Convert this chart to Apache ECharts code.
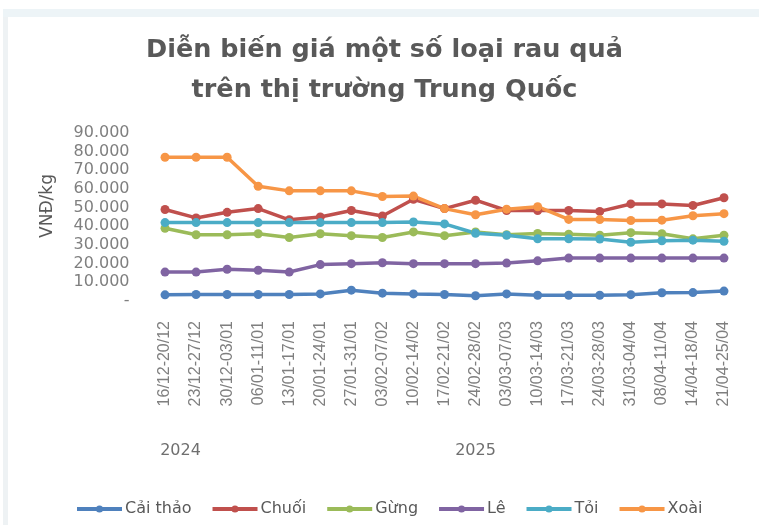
<!DOCTYPE html>
<html>
<head>
<meta charset="utf-8">
<script src="https://cdn.jsdelivr.net/npm/echarts@6/dist/echarts.min.js"></script>
<style>
html,body{margin:0;padding:0;background:#fff;}
#chart{width:759px;height:525px;}
</style>
</head>
<body>
<div id="chart"></div>
<script>
const titleText = 'Diễn biến giá một số loại rau quả\ntrên thị trường Trung Quốc';
const yAxisName = 'VNĐ/kg';
const categories = ['16/12-20/12','23/12-27/12','30/12-03/01','06/01-11/01','13/01-17/01','20/01-24/01','27/01-31/01','03/02-07/02','10/02-14/02','17/02-21/02','24/02-28/02','03/03-07/03','10/03-14/03','17/03-21/03','24/03-28/03','31/03-04/04','08/04-11/04','14/04-18/04','21/04-25/04'];
const years = ['2024', '2025'];
const yearStart = [0, 2];
const yearEnd = [1, 18];
const seriesNames = ['Cải thảo','Chuối','Gừng','Lê','Tỏi','Xoài'];
const caiThao = [3300,3500,3500,3500,3500,3800,5800,4200,3800,3500,2800,3800,3100,3100,3100,3400,4400,4500,5300];
const chuoi = [49000,44500,47500,49500,43500,45000,48500,45500,54500,49500,54000,48500,48500,48500,48000,52000,52000,51200,55300];
const gung = [39000,35500,35500,36000,34000,36000,35000,34000,37000,35000,37000,35500,36200,35800,35200,36600,36000,33300,35200];
const le = [15500,15500,17000,16500,15500,19500,20000,20500,20000,20000,20000,20300,21500,23000,23000,23000,23000,23000,23000];
const toi = [42000,42000,42000,42000,42000,42000,42000,42000,42300,41300,36300,35200,33300,33300,33200,31500,32300,32600,32000];
const xoai = [77000,77000,77000,61500,59000,59000,59000,56000,56200,49500,46200,49200,50500,43700,43600,43100,43300,45700,46800];
const seriesData = [caiThao, chuoi, gung, le, toi, xoai];
const colors = ['#4F81BD','#C0504D','#9BBB59','#8064A2','#4BACC6','#F79646'];

const chart = echarts.init(document.getElementById('chart'), null, {renderer:'canvas'});

function fmt(v){
  if (v === 0) return '-';
  return String(v).replace(/\B(?=(\d{3})+(?!\d))/g, '.');
}

const option = {
  animation: false,
  backgroundColor: '#ffffff',
  color: colors,
  title: {
    text: titleText,
    left: 384.5,
    top: 30,
    padding: 0,
    textAlign: 'center',
    textStyle: {
      fontFamily: 'DejaVu Sans',
      fontWeight: 'bold',
      fontSize: 25.5,
      lineHeight: 40,
      color: '#595959'
    }
  },
  legend: {
    data: seriesNames,
    left: 75,
    top: 501,
    padding: 0,
    itemWidth: 45,
    itemHeight: 9,
    itemGap: 19,
    lineStyle: { width: 4 },
    textStyle: { fontFamily: 'DejaVu Sans', fontSize: 16, color: '#595959', padding: [0,0,0,-2] }
  },
  grid: { left: 149.5, right: 19.5, top: 133, bottom: 224, containLabel: false },
  xAxis: {
    type: 'category',
    data: categories,
    boundaryGap: true,
    axisLine: { show: false },
    axisTick: { show: false },
    axisLabel: {
      rotate: 90,
      interval: 0,
      margin: 20,
      fontFamily: 'Liberation Sans, Arial, sans-serif',
      fontSize: 16,
      color: '#7f7f7f'
    },
    splitLine: { show: false }
  },
  yAxis: {
    type: 'value',
    min: 0,
    max: 90000,
    interval: 10000,
    axisLine: { show: false },
    axisTick: { show: false },
    splitLine: { show: false },
    axisLabel: {
      formatter: fmt,
      margin: 20,
      fontFamily: 'DejaVu Sans',
      fontSize: 16,
      color: '#7f7f7f'
    }
  },
  series: seriesNames.map((n, i) => ({
    name: n,
    type: 'line',
    data: seriesData[i],
    symbol: 'circle',
    symbolSize: 9,
    lineStyle: { width: 3.5, color: colors[i] },
    itemStyle: { color: colors[i] }
  }))
};
chart.setOption(option);

const graphics = [
  { type: 'rect', shape: { x: 3, y: 9, width: 756, height: 8 }, style: { fill: '#edf4f7' }, silent: true, z: -10 },
  { type: 'rect', shape: { x: 3, y: 17, width: 5, height: 508 }, style: { fill: '#eef2f4' }, silent: true, z: -10 },
  { type: 'text', x: 47.5, y: 206, rotation: Math.PI / 2,
    style: { text: yAxisName, font: '17px "DejaVu Sans"', fill: '#595959', textAlign: 'center', textVerticalAlign: 'middle' } }
];
years.forEach((y, i) => {
  const x0 = chart.convertToPixel({ xAxisIndex: 0 }, categories[yearStart[i]]);
  const x1 = chart.convertToPixel({ xAxisIndex: 0 }, categories[yearEnd[i]]);
  graphics.push({ type: 'text', x: (x0 + x1) / 2, y: 451,
    style: { text: y, font: '16px "DejaVu Sans"', fill: '#6f6f6f', textAlign: 'center', textVerticalAlign: 'middle' } });
});
chart.setOption({ graphic: graphics });
</script>
</body>
</html>
